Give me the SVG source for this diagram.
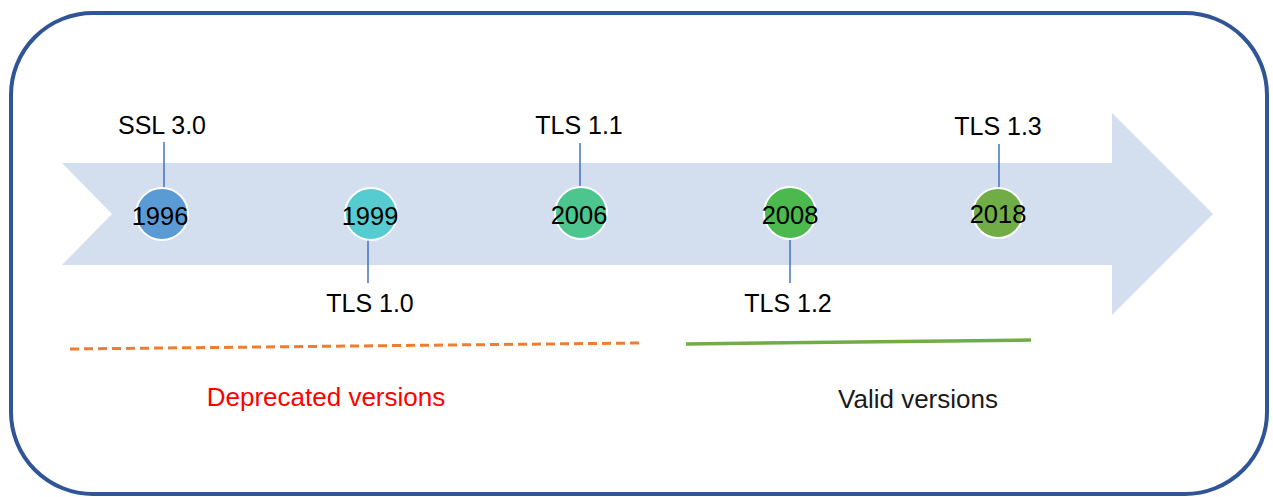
<svg xmlns="http://www.w3.org/2000/svg" width="1273" height="497" viewBox="0 0 1273 497">
<style>
.lbl{font-family:"Liberation Sans",Arial,sans-serif;font-size:25px;fill:#000;text-anchor:middle}
.yr{font-family:"Liberation Sans",Arial,sans-serif;font-size:25.5px;fill:#000;text-anchor:middle}
.leg{font-family:"Liberation Sans",Arial,sans-serif;font-size:26px;text-anchor:middle}
.tick{stroke:#4472C4;stroke-width:1.5}
.dot{stroke:#fff;stroke-width:2}
</style>
<rect x="11" y="13" width="1256" height="481" rx="82" ry="82" fill="#fff" stroke="#2F5597" stroke-width="4"/>
<polygon id="timeline-arrow" points="62,163 1112,163 1112,113 1213,214 1112,315 1112,265 62,265 112,214" fill="#D3DEEF"/>
<g id="connectors">
<line class="tick" x1="164" y1="142" x2="164" y2="188"/>
<line class="tick" x1="368" y1="240" x2="368" y2="283"/>
<line class="tick" x1="580" y1="143" x2="580" y2="188"/>
<line class="tick" x1="790" y1="240" x2="790" y2="283"/>
<line class="tick" x1="999" y1="144" x2="999" y2="188"/>
</g>
<g id="n1996"><circle class="dot" cx="162" cy="214" r="26" fill="#5B9BD5"/><text class="yr" x="160" y="225">1996</text></g>
<g id="n1999"><circle class="dot" cx="371" cy="214" r="26" fill="#56CCD0"/><text class="yr" x="370" y="225">1999</text></g>
<g id="n2006"><circle class="dot" cx="581" cy="213" r="26" fill="#4CC58F"/><text class="yr" x="579" y="224">2006</text></g>
<g id="n2008"><circle class="dot" cx="790" cy="213" r="26" fill="#4BB94E"/><text class="yr" x="790" y="224">2008</text></g>
<g id="n2018"><circle class="dot" cx="998" cy="213" r="25" fill="#70AD47"/><text class="yr" x="998" y="223">2018</text></g>
<g id="lbl-ssl30"><text class="lbl" x="162" y="134">SSL 3.0</text></g>
<g id="lbl-tls10"><text class="lbl" x="370" y="312">TLS 1.0</text></g>
<g id="lbl-tls11"><text class="lbl" x="579" y="134">TLS 1.1</text></g>
<g id="lbl-tls12"><text class="lbl" x="788" y="312">TLS 1.2</text></g>
<g id="lbl-tls13"><text class="lbl" x="998" y="135">TLS 1.3</text></g>
<g id="deprecated">
<line x1="70" y1="349" x2="640" y2="343" stroke="#ED7D31" stroke-width="3" stroke-dasharray="9 5"/>
<text class="leg" x="326" y="406" fill="#FF0000">Deprecated versions</text>
</g>
<g id="valid">
<line x1="686" y1="344" x2="1031" y2="340" stroke="#70AD47" stroke-width="3.5"/>
<text class="leg" x="918" y="408" fill="#1A1A1A">Valid versions</text>
</g>
</svg>
